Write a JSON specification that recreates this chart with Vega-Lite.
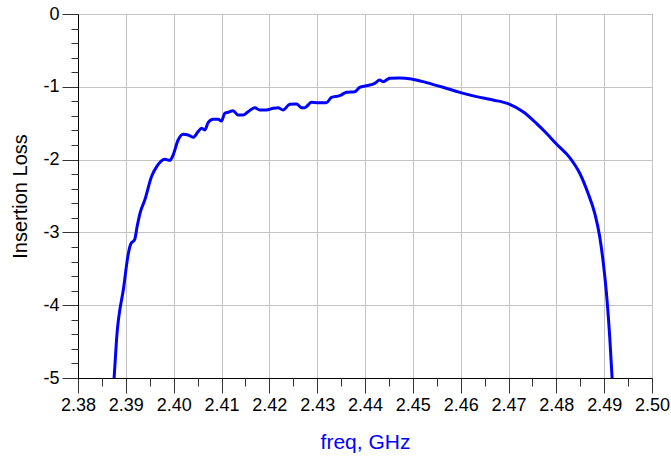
{
  "$schema": "https://vega.github.io/schema/vega-lite/v6.json",
  "autosize": {"type": "none"},
  "width": 574,
  "height": 364,
  "padding": {"left": 78, "top": 14, "right": 19, "bottom": 82},
  "background": "white",
  "config": {
    "view": {"stroke": "black", "strokeWidth": 1},
    "font": "Liberation Sans",
    "axis": {"labelFont": "Liberation Sans", "titleFont": "Liberation Sans"}
  },
  "data": {"values": [
    {"freq": 2.38755, "loss": -5.0},
    {"freq": 2.38805, "loss": -4.478},
    {"freq": 2.38957, "loss": -3.746},
    {"freq": 2.39047, "loss": -3.31},
    {"freq": 2.391, "loss": -3.164},
    {"freq": 2.39187, "loss": -3.095},
    {"freq": 2.39236, "loss": -2.92},
    {"freq": 2.39306, "loss": -2.715},
    {"freq": 2.39396, "loss": -2.555},
    {"freq": 2.39536, "loss": -2.235},
    {"freq": 2.39645, "loss": -2.097},
    {"freq": 2.39814, "loss": -1.996},
    {"freq": 2.3992, "loss": -2.01},
    {"freq": 2.39988, "loss": -1.937},
    {"freq": 2.40093, "loss": -1.731},
    {"freq": 2.40197, "loss": -1.652},
    {"freq": 2.40302, "loss": -1.662},
    {"freq": 2.40406, "loss": -1.694},
    {"freq": 2.40511, "loss": -1.616},
    {"freq": 2.40581, "loss": -1.57},
    {"freq": 2.4065, "loss": -1.593},
    {"freq": 2.4072, "loss": -1.493},
    {"freq": 2.40824, "loss": -1.447},
    {"freq": 2.40929, "loss": -1.447},
    {"freq": 2.41, "loss": -1.47},
    {"freq": 2.41068, "loss": -1.364},
    {"freq": 2.41138, "loss": -1.35},
    {"freq": 2.41242, "loss": -1.328},
    {"freq": 2.41347, "loss": -1.387},
    {"freq": 2.41451, "loss": -1.387},
    {"freq": 2.41556, "loss": -1.342},
    {"freq": 2.41696, "loss": -1.287},
    {"freq": 2.418, "loss": -1.319},
    {"freq": 2.4194, "loss": -1.319},
    {"freq": 2.42079, "loss": -1.296},
    {"freq": 2.42183, "loss": -1.287},
    {"freq": 2.42288, "loss": -1.319},
    {"freq": 2.42427, "loss": -1.241},
    {"freq": 2.42567, "loss": -1.236},
    {"freq": 2.42672, "loss": -1.287},
    {"freq": 2.42741, "loss": -1.287},
    {"freq": 2.42881, "loss": -1.213},
    {"freq": 2.43019, "loss": -1.218},
    {"freq": 2.43194, "loss": -1.218},
    {"freq": 2.43299, "loss": -1.145},
    {"freq": 2.43473, "loss": -1.122},
    {"freq": 2.43612, "loss": -1.076},
    {"freq": 2.43786, "loss": -1.067},
    {"freq": 2.4389, "loss": -1.007},
    {"freq": 2.4403, "loss": -0.985},
    {"freq": 2.44204, "loss": -0.952},
    {"freq": 2.44309, "loss": -0.907},
    {"freq": 2.44378, "loss": -0.93},
    {"freq": 2.44517, "loss": -0.884},
    {"freq": 2.44726, "loss": -0.878},
    {"freq": 2.44971, "loss": -0.893},
    {"freq": 2.45285, "loss": -0.943},
    {"freq": 2.45632, "loss": -1.007},
    {"freq": 2.45981, "loss": -1.076},
    {"freq": 2.4633, "loss": -1.135},
    {"freq": 2.46677, "loss": -1.181},
    {"freq": 2.47026, "loss": -1.241},
    {"freq": 2.47304, "loss": -1.342},
    {"freq": 2.47584, "loss": -1.502},
    {"freq": 2.47793, "loss": -1.639},
    {"freq": 2.48002, "loss": -1.786},
    {"freq": 2.4828, "loss": -1.973},
    {"freq": 2.48489, "loss": -2.188},
    {"freq": 2.48663, "loss": -2.463},
    {"freq": 2.48803, "loss": -2.738},
    {"freq": 2.48907, "loss": -3.059},
    {"freq": 2.48991, "loss": -3.471},
    {"freq": 2.4906, "loss": -3.929},
    {"freq": 2.49116, "loss": -4.433},
    {"freq": 2.49166, "loss": -5.0}
  ]},
  "layer": [
    {
      "mark": {"type": "line", "color": "#0000ff", "strokeWidth": 3, "interpolate": "monotone", "clip": true},
      "encoding": {
        "x": {"field": "freq", "type": "quantitative",
          "scale": {"domain": [2.38, 2.5], "nice": false, "zero": false},
          "axis": {"title": "freq, GHz", "titleColor": "#0000ff", "titleFontSize": 21, "titleFontWeight": "normal", "titlePadding": 17,
            "values": [2.38, 2.39, 2.4, 2.41, 2.42, 2.43, 2.44, 2.45, 2.46, 2.47, 2.48, 2.49, 2.5],
            "format": ".2f", "labelFontSize": 18, "labelColor": "black", "labelPadding": 3,
            "tickSize": 15, "tickColor": "#333333", "tickWidth": 1, "domainColor": "black", "domainWidth": 1,
            "grid": true, "gridColor": "#c4c4c4", "gridWidth": 1, "labelFlush": false, "labelOverlap": false}},
        "y": {"field": "loss", "type": "quantitative",
          "scale": {"domain": [-5, 0], "nice": false, "zero": false},
          "axis": {"title": "Insertion Loss", "titleColor": "black", "titleFontSize": 20, "titleFontWeight": "normal", "titlePadding": 12,
            "values": [-5, -4, -3, -2, -1, 0],
            "labelExpr": "datum.value == 0 ? '0' : '-' + abs(datum.value)",
            "labelFontSize": 18, "labelColor": "black", "labelPadding": 3,
            "tickSize": 16, "tickColor": "#333333", "tickWidth": 1, "domainColor": "black", "domainWidth": 1,
            "grid": true, "gridColor": "#c4c4c4", "gridWidth": 1, "labelFlush": false, "labelOverlap": false}}
      }
    },
    {
      "mark": {"type": "line", "strokeOpacity": 0},
      "encoding": {
        "x": {"field": "freq", "type": "quantitative",
          "axis": {"orient": "bottom", "title": null, "labels": false, "grid": false, "domain": false,
            "values": [2.385, 2.395, 2.405, 2.415, 2.425, 2.435, 2.445, 2.455, 2.465, 2.475, 2.485, 2.495],
            "tickSize": 8, "tickColor": "#333333", "tickWidth": 1}},
        "y": {"field": "loss", "type": "quantitative",
          "axis": {"orient": "left", "title": null, "labels": false, "grid": false, "domain": false,
            "values": [-4.8, -4.6, -4.4, -4.2, -3.8, -3.6, -3.4, -3.2, -2.8, -2.6, -2.4, -2.2, -1.8, -1.6, -1.4, -1.2, -0.8, -0.6, -0.4, -0.2],
            "tickSize": 7, "tickColor": "#333333", "tickWidth": 1}}
      }
    }
  ],
  "resolve": {"axis": {"x": "independent", "y": "independent"}}
}
